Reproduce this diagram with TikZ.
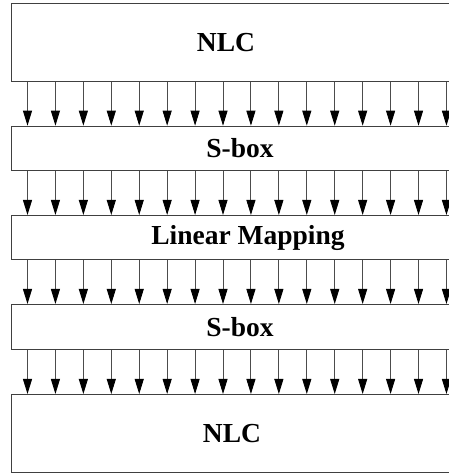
\documentclass[tikz,border=0pt]{standalone}
\usepackage{fontspec}
\setmainfont{Liberation Serif}
\usetikzlibrary{arrows.meta}
\begin{document}
\begin{tikzpicture}[x=1pt,y=1pt,
  box/.style={draw=black!75, line width=1pt, rectangle, minimum width=470pt, inner sep=0pt, anchor=north west},
  lbl/.style={font=\fontsize{27.5}{30}\selectfont\bfseries, inner sep=0pt},
  arr/.style={draw=black!70, line width=0.9pt, -{Triangle[length=15pt,width=9pt,fill=black,color=black]}}]
\useasboundingbox (0,0) rectangle (449,475);
\clip (0,0) rectangle (449,475);
\fill[white] (0,0) rectangle (449,475);
% boxes (y measured from top: 475 - y)
\node[box, minimum height=78pt] (nlc1) at (11,472) {};
\node[box, minimum height=44.3pt] (s1) at (11,349.3) {};
\node[box, minimum height=44.3pt] (lm) at (11,260) {};
\node[box, minimum height=45pt] (s2) at (11,171) {};
\node[box, minimum height=78pt] (nlc2) at (11,81) {};
% labels
\node[lbl] (t1) at (226,0 |- nlc1.center) {NLC};
\node[lbl] (t2) at (240,0 |- s1.center) {S-box};
\node[lbl] (t3) at (248,0 |- lm.center) {Linear Mapping};
\node[lbl] (t4) at (240,0 |- s2.center) {S-box};
\node[lbl] (t5) at (232,0 |- nlc2.center) {NLC};
% arrows
\foreach \k in {0,...,15}{
  \coordinate (c\k) at ({27.5+27.93*\k},0);
  \draw[arr] (c\k |- nlc1.south) -- (c\k |- s1.north);
  \draw[arr] (c\k |- s1.south) -- (c\k |- lm.north);
  \draw[arr] (c\k |- lm.south) -- (c\k |- s2.north);
  \draw[arr] (c\k |- s2.south) -- (c\k |- nlc2.north);
}
\end{tikzpicture}
\end{document}
